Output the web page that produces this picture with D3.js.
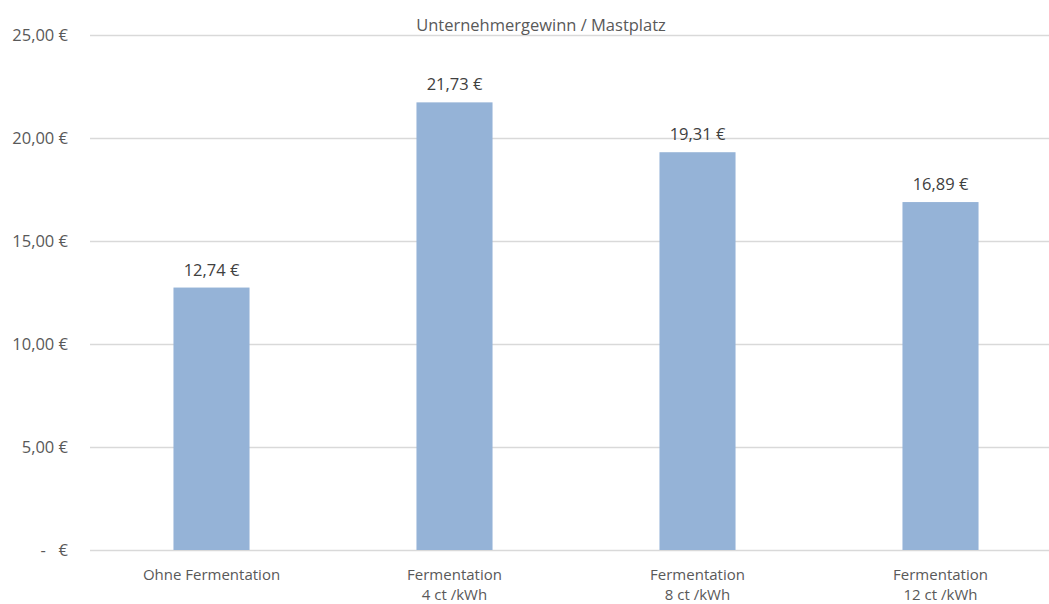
<!DOCTYPE html>
<html>
<head>
<meta charset="utf-8">
<script src="https://cdn.jsdelivr.net/npm/d3@7"></script>
<style>
  html, body { margin: 0; padding: 0; background: #fff; }
  svg text { font-family: "Open Sans", "Noto Sans", sans-serif; }
</style>
</head>
<body>
<svg id="chart" width="1049" height="604"></svg>
<script>
// Unternehmergewinn je Mastplatz
const categories = [
  ["Ohne Fermentation"],
  ["Fermentation", "4 ct /kWh"],
  ["Fermentation", "8 ct /kWh"],
  ["Fermentation", "12 ct /kWh"]
];
const values = [12.74, 21.73, 19.31, 16.89];
const yTicks = [0, 5, 10, 15, 20, 25];
const title = "Unternehmergewinn / Mastplatz";

const svg = d3.select("#chart");
const margin = { left: 90, right: -13, top: 35, bottom: 54 };
const W = 1049, H = 604;
const fs = 16.5;
const catFs = 15;

const x = d3.scaleBand()
  .domain(d3.range(categories.length))
  .range([margin.left, W - margin.right])
  .paddingInner(0.687)
  .paddingOuter(0.3435);

const y = d3.scaleLinear()
  .domain([0, 25])
  .range([H - margin.bottom, margin.top]);

const euro = v => v === 0 ? "-   €" : d3.format(".2f")(v).replace(".", ",") + " €";

// horizontal gridlines
svg.append("g")
  .selectAll("line")
  .data(yTicks)
  .join("line")
  .attr("x1", margin.left)
  .attr("x2", W - margin.right)
  .attr("y1", d => Math.round(y(d)) + 0.5)
  .attr("y2", d => Math.round(y(d)) + 0.5)
  .attr("stroke", "#d9d9d9")
  .attr("stroke-width", 1.3);

// y tick labels
svg.append("g")
  .selectAll("text")
  .data(yTicks)
  .join("text")
  .attr("x", 68)
  .attr("y", d => y(d))
  .attr("dy", "0.35em")
  .attr("text-anchor", "end")
  .attr("font-size", fs)
  .attr("fill", "#595959")
  .style("white-space", "pre")
  .text(euro);

// bars
svg.append("g")
  .selectAll("rect")
  .data(values)
  .join("rect")
  .attr("x", (d, i) => x(i))
  .attr("width", x.bandwidth())
  .attr("y", d => y(d))
  .attr("height", d => y(0) - y(d))
  .attr("fill", "#95b3d7");

// value labels
svg.append("g")
  .selectAll("text")
  .data(values)
  .join("text")
  .attr("x", (d, i) => x(i) + x.bandwidth() / 2)
  .attr("y", d => y(d) - 12)
  .attr("text-anchor", "middle")
  .attr("font-size", fs)
  .attr("fill", "#404040")
  .text(euro);

// category labels, one text element per line
const catG = svg.append("g");
categories.forEach((lines, i) => {
  lines.forEach((line, j) => {
    catG.append("text")
      .attr("x", x(i) + x.bandwidth() / 2)
      .attr("y", 580 + j * 20)
      .attr("text-anchor", "middle")
      .attr("font-size", catFs)
      .attr("fill", "#595959")
      .text(line);
  });
});

// title
svg.append("text")
  .attr("x", 541)
  .attr("y", 31)
  .attr("text-anchor", "middle")
  .attr("font-size", fs)
  .attr("fill", "#595959")
  .text(title);
</script>
</body>
</html>
